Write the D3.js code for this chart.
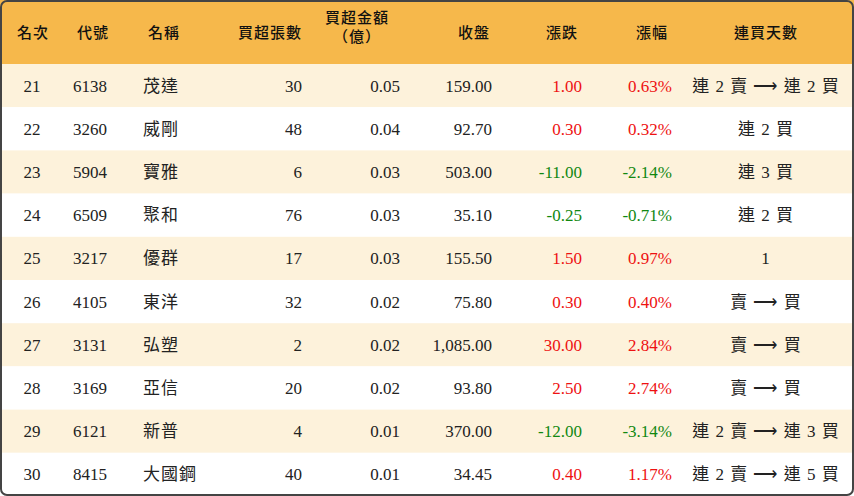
<!DOCTYPE html>
<html><head><meta charset="utf-8">
<script src="https://cdn.jsdelivr.net/npm/d3@7"></script>
<style>body{margin:0;background:#fff}</style>
</head><body>
<svg id="chart" width="854" height="496"></svg>
<script>
const WIDTH = 854, HEIGHT = 496, HEAD = 64;
const headers = ["名次","代號","名稱","買超張數","買超金額\n（億）","收盤","漲跌","漲幅","連買天數"];
const ranks = [21,22,23,24,25,26,27,28,29,30];
const codes = ["6138","3260","5904","6509","3217","4105","3131","3169","6121","8415"];
const names = ["茂達","威剛","寶雅","聚和","優群","東洋","弘塑","亞信","新普","大國鋼"];
const lots = [30,48,6,76,17,32,2,20,4,40];
const amounts = ["0.05","0.04","0.03","0.03","0.03","0.02","0.02","0.02","0.01","0.01"];
const closes = ["159.00","92.70","503.00","35.10","155.50","75.80","1,085.00","93.80","370.00","34.45"];
const changes = ["1.00","0.30","-11.00","-0.25","1.50","0.30","30.00","2.50","-12.00","0.40"];
const pcts = ["0.63%","0.32%","-2.14%","-0.71%","0.97%","0.40%","2.84%","2.74%","-3.14%","1.17%"];
const streaks = ["連 2 賣 ⟶ 連 2 買","連 2 買","連 3 買","連 2 買","1","賣 ⟶ 買","賣 ⟶ 買","賣 ⟶ 買","連 2 賣 ⟶ 連 3 買","連 2 賣 ⟶ 連 5 買"];

// column anchor x and alignment
const cols = [
  {x:32, a:"middle"},{x:73, a:"start"},{x:143, a:"start"},{x:302, a:"end"},
  {x:400, a:"end"},{x:492, a:"end"},{x:582, a:"end"},{x:672, a:"end"},{x:766, a:"middle"}
];
const headX = [33,93,164,270,357,474,562,652,766];

const y = d3.scaleBand().domain(d3.range(ranks.length)).range([HEAD, HEIGHT]);
const svg = d3.select("#chart");
const FONT = "'Liberation Serif','Noto Sans CJK TC',serif";

svg.append("rect").attr("width", WIDTH).attr("height", HEAD).attr("fill", "#f6b84b");
svg.selectAll(".row").data(ranks).join("rect")
  .attr("x", 0).attr("y", (d,i) => y(i)).attr("width", WIDTH).attr("height", y.bandwidth())
  .attr("fill", (d,i) => i % 2 ? "#ffffff" : "#fdf2db");

headers.forEach((h, j) => {
  const lines = h.split("\n");
  const t = svg.append("text").attr("x", headX[j]).attr("text-anchor", "middle")
    .attr("font-family", "'Noto Sans CJK TC',sans-serif").attr("font-size", 15)
    .attr("font-weight", 500).attr("letter-spacing", 1).attr("fill", "#111");
  lines.forEach((l, k) => t.append("tspan").attr("x", headX[j])
    .attr("y", lines.length > 1 ? 23 + k*19 : 38).text(l));
});

const color = v => v.startsWith("-") ? "#118811" : "#ee1111";
const rows = ranks.map((r,i) => [
  [r,"#222"],[codes[i],"#222"],[names[i],"#222"],[lots[i],"#222"],[amounts[i],"#222"],
  [closes[i],"#222"],[changes[i],color(changes[i])],[pcts[i],color(pcts[i])],[streaks[i],"#222"]
]);
rows.forEach((row, i) => {
  row.forEach(([v,c], j) => {
    svg.append("text").attr("x", cols[j].x).attr("y", y(i) + y.bandwidth()/2 + 6)
      .attr("text-anchor", cols[j].a).attr("fill", c)
      .attr("font-family", FONT).attr("font-size", 17)
      .attr("letter-spacing", (j === 2 || j === 8) ? 1 : 0).text(v);
  });
});

svg.append("rect").attr("x", 1).attr("y", 1).attr("width", WIDTH-2).attr("height", HEIGHT-2)
  .attr("rx", 6).attr("fill", "none").attr("stroke", "#444").attr("stroke-width", 2);
</script>
</body></html>
